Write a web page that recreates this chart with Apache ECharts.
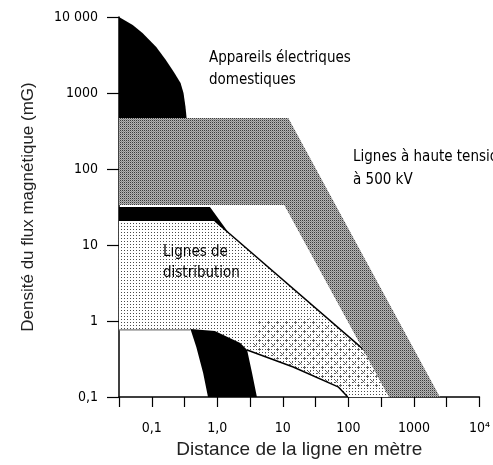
<!DOCTYPE html>
<html>
<head>
<meta charset="utf-8">
<script src="https://cdn.jsdelivr.net/npm/echarts@6/dist/echarts.min.js"></script>
<style>html,body{margin:0;padding:0;background:#fff}#c{width:493px;height:465px}</style>
</head>
<body>
<div id="c"></div>
<script>
// Tick labels (log decades)
const xTickLabels = ['0,1', '1,0', '10', '100', '1000', '10⁴'];   // 10^-1 .. 10^4
const yTickLabels = ['0,1', '1', '10', '100', '1000', '10 000'];  // 10^-1 .. 10^4

// Appareils électriques domestiques (black, upper left)
const appliancesDist  = [0.0316, 0.0512, 0.0722, 0.117, 0.164, 0.217, 0.275, 0.305, 0.327, 0.339, 0.339, 0.0316];
const appliancesField = [10000, 7850, 6150, 4030, 2720, 1890, 1355, 1000, 655, 483, 400, 400];

// Lignes à haute tension à 500 kV (grey band)
const hvDist  = [0.0316, 12.1, 2490, 416, 10.5, 0.0316];
const hvField = [469, 469, 0.1, 0.1, 33.6, 33.6];

// Lignes de distribution – black upper band
const distTopDist  = [0.0316, 0.773, 1.70, 0.918, 0.0316];
const distTopField = [31.6, 31.6, 12.4, 20.7, 20.7];

// Lignes de distribution – dotted area
const distDist  = [0.0316, 0.918, 195, 446, 98, 69.7, 14.4, 2.85, 2.24, 0.918, 0.389, 0.0316];
const distField = [20.7, 20.7, 0.38, 0.1, 0.1, 0.136, 0.248, 0.415, 0.514, 0.738, 0.762, 0.762];

// Lignes de distribution – denser cross-hatched part
const hatchDist  = [4.31, 31.6, 149, 351, 69.7, 14.4, 3.39];
const hatchField = [1.03, 1.09, 0.483, 0.131, 0.136, 0.248, 0.455];

// Border lines of the distribution area
const upperLineDist  = [0.918, 195];
const upperLineField = [20.7, 0.38];
const lowerLineDist  = [2.85, 14.4, 69.7, 98];
const lowerLineField = [0.415, 0.248, 0.136, 0.1];
const floorLineDist  = [0.0316, 0.389];
const floorLineField = [0.762, 0.762];

// Lower black area (appliances at low field)
const lowBlackDist  = [0.389, 0.918, 2.24, 2.85, 3.39, 4.02, 0.721, 0.608, 0.478];
const lowBlackField = [0.786, 0.738, 0.514, 0.415, 0.207, 0.1, 0.1, 0.207, 0.455];

const lg = v => Math.log10(v);
const toPts = (xs, ys) => xs.map((x, i) => [lg(x), lg(ys[i])]);

function makePattern(size, fn) {
  const c = document.createElement('canvas');
  c.width = size; c.height = size;
  const ctx = c.getContext('2d');
  fn(ctx);
  return { image: c, repeat: 'repeat' };
}
const greyPattern = makePattern(2, ctx => {
  ctx.fillStyle = '#b4b4b4'; ctx.fillRect(0, 0, 2, 2);
  ctx.fillStyle = '#3c3c3c'; ctx.fillRect(0, 0, 1, 1);
  ctx.fillStyle = '#8c8c8c'; ctx.fillRect(1, 1, 1, 1);
});
const dotPattern = makePattern(3, ctx => {
  ctx.fillStyle = '#ffffff'; ctx.fillRect(0, 0, 3, 3);
  ctx.fillStyle = '#4a4a4a'; ctx.fillRect(1, 1, 1, 1);
});
const hatchPattern = makePattern(9, ctx => {
  ctx.clearRect(0, 0, 9, 9);
  ctx.fillStyle = '#6a6a6a';
  [[2,2],[4,2],[3,3],[2,4],[4,4],[7,6],[6,7],[8,7],[7,8]].forEach(p => ctx.fillRect(p[0], p[1], 1, 1));
});

function polygonSeries(name, pts, fill, z) {
  return {
    type: 'custom', name, z,
    data: pts,
    silent: true,
    renderItem(params, api) {
      if (params.dataIndex !== 0) return null;
      const n = params.dataInsideLength;
      const points = [];
      for (let i = 0; i < n; i++) points.push(api.coord([api.value(0, i), api.value(1, i)]));
      return { type: 'polygon', shape: { points }, style: { fill, stroke: null } };
    }
  };
}
function lineSeries(pts, color, width, z) {
  return {
    type: 'line', data: pts, symbol: 'none', silent: true, z,
    lineStyle: { color, width }, animation: false
  };
}

const condensed = "'Liberation Sans Narrow','DejaVu Sans Condensed','Roboto Condensed',sans-serif";

const chart = echarts.init(document.getElementById('c'), null, { renderer: 'canvas' });
chart.setOption({
  animation: false,
  backgroundColor: '#fff',
  grid: { left: 119, right: 6, top: 17, bottom: 68 },
  xAxis: {
    type: 'value', min: -1.5, max: 4, interval: 0.5,
    name: 'Distance de la ligne en mètre', nameLocation: 'middle', nameGap: 37,
    nameTextStyle: { fontFamily: 'Liberation Sans, Arial, sans-serif', fontSize: 19, color: '#222' },
    axisLine: { show: true, onZero: false, lineStyle: { color: '#000', width: 1.5 } },
    axisTick: { show: true, length: 10, lineStyle: { color: '#000', width: 1.2 } },
    splitLine: { show: false },
    axisLabel: {
      margin: 24, color: '#000', fontFamily: condensed, fontSize: 14,
      showMinLabel: true, showMaxLabel: true,
      formatter: v => {
        const r = Math.round(v);
        if (Math.abs(v - r) > 1e-6) return '';
        return xTickLabels[r + 1] || '';
      }
    }
  },
  yAxis: {
    type: 'value', min: -1, max: 4, interval: 1,
    name: 'Densité du flux magnétique (mG)', nameLocation: 'middle', nameGap: 82,
    nameTextStyle: { fontFamily: 'Liberation Sans, Arial, sans-serif', fontSize: 17, color: '#222' },
    axisLine: { show: true, onZero: false, lineStyle: { color: '#000', width: 1.5 } },
    axisTick: { show: true, length: 12, lineStyle: { color: '#000', width: 1.2 } },
    splitLine: { show: false },
    axisLabel: {
      margin: 21, color: '#000', fontFamily: condensed, fontSize: 14,
      formatter: v => yTickLabels[Math.round(v) + 1] || ''
    }
  },
  series: [
    polygonSeries('appliances', toPts(appliancesDist, appliancesField), '#000', 1),
    polygonSeries('distTop', toPts(distTopDist, distTopField), '#000', 2),
    polygonSeries('distribution', toPts(distDist, distField), dotPattern, 2),
    polygonSeries('distributionHatch', toPts(hatchDist, hatchField), hatchPattern, 2),
    lineSeries(toPts(upperLineDist, upperLineField), '#000', 1.5, 3),
    lineSeries(toPts(lowerLineDist, lowerLineField), '#000', 1.5, 3),
    lineSeries(toPts(floorLineDist, floorLineField), '#777', 1.2, 3),
    polygonSeries('lowBlack', toPts(lowBlackDist, lowBlackField), '#000', 4),
    polygonSeries('hv500', toPts(hvDist, hvField), greyPattern, 5)
  ],
  graphic: [
    { type: 'text', z: 100, style: { text: 'Appareils électriques', x: 209, y: 58, font: "15px " + condensed, fill: '#000', verticalAlign: 'middle' } },
    { type: 'text', z: 100, style: { text: 'domestiques', x: 209, y: 80, font: "15px " + condensed, fill: '#000', verticalAlign: 'middle' } },
    { type: 'text', z: 100, style: { text: 'Lignes à haute tension', x: 353, y: 157, font: "15px " + condensed, fill: '#000', verticalAlign: 'middle' } },
    { type: 'text', z: 100, style: { text: 'à 500 kV', x: 353, y: 180, font: "15px " + condensed, fill: '#000', verticalAlign: 'middle' } },
    { type: 'text', z: 100, style: { text: 'Lignes de', x: 163, y: 252, font: "15px " + condensed, fill: '#000', verticalAlign: 'middle' } },
    { type: 'text', z: 100, style: { text: 'distribution', x: 163, y: 273, font: "15px " + condensed, fill: '#000', verticalAlign: 'middle' } }
  ]
});
</script>
</body>
</html>
